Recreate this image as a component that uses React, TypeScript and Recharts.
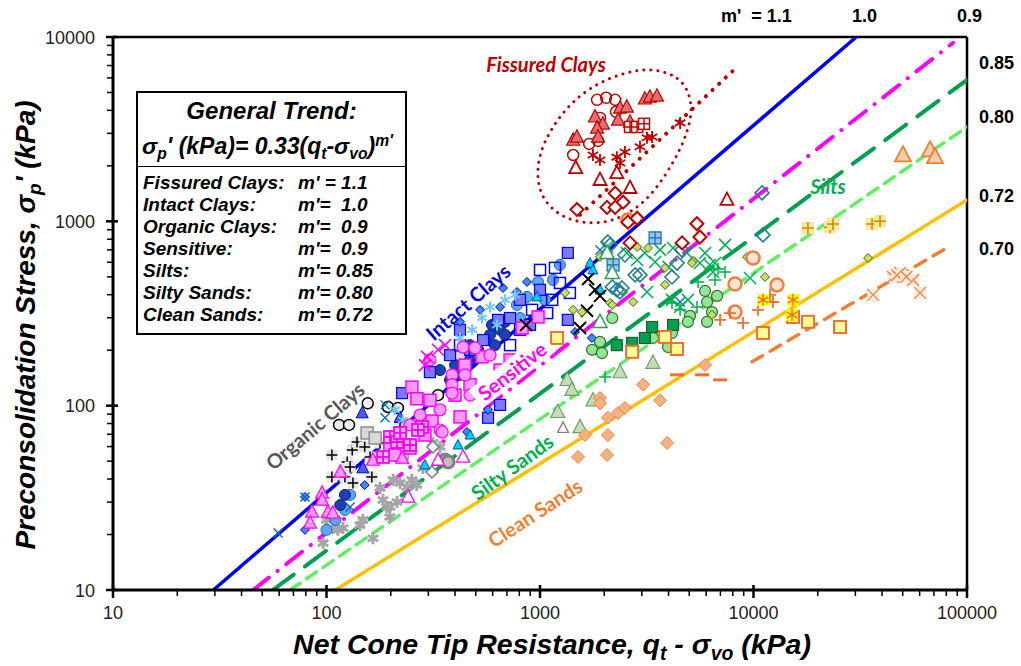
import React from 'react'
import { ComposedChart, Scatter, Line, XAxis, YAxis, ReferenceLine } from 'recharts'

// each point: [net cone tip resistance qt - svo (kPa), preconsolidation stress sp' (kPa)]

// Fissured clays
const fissuredCircles = [[1850, 4560], [2040, 4680], [2250, 4560], [2270, 3930], [1910, 3640], [1700, 2630], [1870, 2730], [1430, 2290]]
const fissuredTriangles = [[3100, 4620], [3270, 4730], [3530, 4790], [2370, 4120], [2550, 4180], [1810, 3690], [1970, 3380], [1850, 3210], [1870, 2870], [2320, 3550], [2640, 3460], [1430, 2760], [1490, 2870]]
const fissuredOpenTriangles = [[1470, 1950], [1910, 1680], [2290, 1830], [2640, 1520], [7510, 1310]]
const fissuredStars = [[1770, 2290], [1910, 2150], [2290, 2230], [2370, 2070], [2500, 2380], [2940, 2540], [3170, 2840], [3350, 2870], [4530, 3420]]
const fissuredBoxes = [[2640, 3250], [2850, 3250], [3070, 3380]]
const fissuredDiamonds = [[1490, 1160], [2060, 1190], [2250, 1420], [2450, 1270], [2250, 1190], [2580, 990], [2850, 1040], [5430, 970], [2640, 764], [4630, 764], [5610, 822]]

// Intact clays
const intactSquares = [[1350, 674], [1350, 292], [636, 292], [226, 117], [571, 86], [650, 101], [541, 227], [379, 188], [305, 152], [806, 375], [1000, 425], [422, 258], [470, 201], [724, 299], [898, 274]]
const intactOpenSquares = [[1240, 463], [1380, 409], [1140, 375], [1080, 318], [918, 331], [806, 258], [724, 213], [496, 188], [422, 213], [1000, 545], [1175, 559]]
const intactNavyCircles = [[650, 258], [615, 213], [583, 242], [470, 177], [513, 201], [686, 285], [422, 147], [379, 138], [116, 28.9], [122, 32.8], [596, 274], [552, 227], [686, 242], [470, 213], [400, 166], [340, 156]]
const intactLightCircles = [[1150, 481], [979, 469], [869, 389], [780, 352], [129, 32.8], [110, 24], [122, 27.2], [100, 21.2], [1240, 580], [1055, 375], [806, 299]]
const intactDiamonds = [[869, 469], [780, 414], [671, 435], [650, 343], [1750, 233], [1460, 251], [151, 37.1], [571, 95], [455, 72], [79.3, 32], [79.3, 21.2], [524, 331], [422, 285]]
const intactCyanTriangles = [[1714, 594], [1770, 545], [968, 389], [1910, 425], [413, 61.2], [470, 69.3], [289, 47.7]]
const intactTriangles = [[147, 91.2], [148, 45.9], [221, 86]]
const intactCrosses = [[59.3, 20.4], [79.3, 32], [129, 28.2], [188, 101], [1910, 700], [4530, 365], [188, 86]]
const intactStars = [[535, 299], [583, 343], [481, 258], [686, 375], [764, 399], [422, 233], [629, 274], [209, 95], [228, 83.6]]
const intactBoxes = [[3460, 813], [2200, 580]]

// Sensitive clays
const sensitiveSquares = [[251, 126], [265, 109], [312, 82.6], [422, 86.9], [535, 184], [445, 166], [979, 303], [824, 264], [221, 71.1], [198, 61.2], [246, 58.9], [289, 69.3], [209, 54], [305, 107], [400, 114], [470, 130], [650, 156], [724, 177]]
const sensitiveCircles = [[436, 208], [496, 206], [387, 147], [387, 130], [387, 117], [445, 147], [340, 73.8], [340, 95], [348, 72], [305, 177], [583, 188], [274, 89], [470, 114], [650, 138], [246, 78.6]]
const sensitiveCrosses = [[296, 184], [359, 213], [333, 201], [289, 166]]
const sensitiveTriangles = [[95.3, 33.6], [95.3, 30.8], [85.5, 26.5], [101.6, 26.5], [83.7, 23.1], [107, 26.2], [116, 43.7], [165, 50.7], [226, 52]]
const sensitiveOpenTriangles = [[241, 32], [333, 50.7], [436, 52.7]]
const sensitivePlus = [[184, 52.7], [198, 67.6], [214, 63.5], [221, 71.1], [246, 61.2], [280, 76.6], [268, 73.8]]

// Organic clays
const organicPlus = [[106, 54], [106, 41], [122, 41], [132, 57.5], [139, 63.5], [163, 41], [178, 62.8], [151, 59.7], [133, 38.1], [221, 76.6], [125, 49.5], [129, 46.5], [160, 52.7]]
const organicCircles = [[114.5, 78.6], [127.5, 78.6], [156, 103], [194, 98.4], [216, 97.2], [333, 114]]
const organicCrosses = [[1680, 487], [1910, 394], [1660, 327], [1540, 264], [860, 274], [1810, 425]]
const organicGraySquares = [[155, 71.1], [169, 66.8], [226, 55.4], [422, 184]]
const organicGrayStars = [[96.4, 18], [107, 21.7], [119.5, 21.7], [143.5, 22.5], [148, 24], [165, 19.1], [192, 28.2], [198, 24.9], [214, 30], [221, 38.1], [251, 39.5], [265, 37.1], [178, 35.8], [283, 45.9], [315, 62.8], [340, 59.7], [100, 24], [113, 21.2], [205, 39.5], [238, 36.2], [184, 30.8], [198, 28.2]]
const organicGrayDiamonds = [[315, 59.7], [312, 43.7]]
const organicGrayRings = [[359, 50.7], [371, 49.5]]

// Silts
const siltCrosses = [[2060, 726], [2550, 674], [3100, 674], [3170, 414], [3650, 700], [3460, 602], [4000, 566], [4200, 717], [4880, 674], [5610, 594], [6250, 580], [6460, 531], [7360, 745], [4150, 375], [4530, 343], [4930, 375], [2850, 617], [5930, 674], [6600, 594], [9630, 493]]
const siltPlus = [[6600, 481], [5500, 469], [5440, 343], [4530, 331], [4150, 361], [6820, 552], [7360, 531], [2016, 143]]
const siltDiamonds = [[10960, 1426], [11080, 844], [4150, 499], [2790, 512], [2370, 414], [4620, 700], [2130, 745], [2080, 773], [2500, 657], [2940, 512], [4385, 594], [2180, 441], [2290, 425], [2420, 435]]
const siltSmallDiamonds = [[1910, 641], [2850, 726], [3850, 559], [5210, 610], [9330, 641], [11320, 499], [2730, 365], [3850, 452], [34400, 633], [6390, 311], [2130, 361], [1430, 331], [1574, 322], [1310, 409], [3205, 717], [2180, 352], [5150, 594]]
const siltCircles = [[2180, 299], [5930, 419], [6750, 394], [6060, 365], [6390, 322], [5040, 307], [6060, 285], [4930, 285], [3980, 208], [3380, 233], [1753, 201], [1951, 193], [4150, 248], [1910, 222]]
const siltSquares = [[2290, 213], [2700, 219], [3100, 233], [3350, 267], [4200, 274]]

// Silty sands
const siltySandTriangles = [[3380, 171], [2370, 152], [1340, 138], [1410, 122], [1770, 107], [1210, 92.5], [1540, 76.6]]
const siltySandOpenTriangles = [[2060, 674], [2180, 525], [1910, 285]]
const siltySandGrayTriangles = [[1282, 75.7]]

// Clean sands
const cleanDiamonds = [[5930, 166], [3040, 130], [3650, 107], [1910, 110], [1910, 103], [2080, 86], [2320, 91.2], [2500, 97.2], [1625, 69.3], [2080, 69.3], [3940, 62.8], [1507, 52.7], [2060, 54]]
const cleanCircles = [[12880, 452], [8190, 457], [9950, 633], [8190, 322], [2580, 1018]]
const cleanPlus = [[6970, 292], [8930, 281], [7760, 318], [10490, 331], [12330, 365], [11950, 399]]
const cleanSquares = [[11080, 248], [17990, 285], [25410, 267], [15310, 303], [1202, 233], [2700, 196], [3850, 236], [4385, 203]]
const cleanStars = [[11080, 375], [15310, 375], [15140, 311]]
const cleanBoxes = [[17990, 921], [22820, 930], [23570, 968], [35900, 968], [39150, 1002]]
const cleanTriangles = [[50100, 2290], [67100, 2440], [70800, 2240]]
const cleanCrosses = [[45000, 499], [48600, 525], [55900, 481], [60300, 409], [36300, 399], [47000, 510], [52000, 500]]
const cleanDashes = [[4385, 147], [5740, 147], [6970, 138]]

// trend lines (end points)
const fissuredTrend = [[1540, 1084], [8000, 6550]]
const intactTrend = [[29.5, 10], [30300, 10000]]
const sensitiveTrend = [[45.3, 10], [85900, 9290]]
const siltTrend = [[56, 10], [100000, 5850]]
const siltySandTrend = [[67.5, 10], [100000, 3250]]
const cleanSandTrend = [[110, 10], [100000, 1306]]
const cleanSandFit = [[9840, 173], [80500, 718]]
const fissuredEllipse = [[3380, 6790], [4530, 6080], [5040, 4850], [5150, 3925], [4930, 3133], [4530, 2440], [3940, 1832], [3275, 1357], [2640, 1111], [2130, 993], [1660, 968], [1282, 1043], [1055, 1259], [968, 1616], [979, 2236], [1114, 3133], [1384, 4390], [1850, 5636], [2550, 6470]]

// axis ticks
const xMajor = [10, 100, 1000, 10000, 100000]
const xTicks = [10, 20, 30, 40, 50, 60, 70, 80, 90, 100, 200, 300, 400, 500, 600, 700, 800, 900, 1000, 2000, 3000, 4000, 5000, 6000, 7000, 8000, 9000, 10000, 20000, 30000, 40000, 50000, 60000, 70000, 80000, 90000, 100000]
const yMajor = [10, 100, 1000, 10000]
const yTicks = [10, 20, 30, 40, 50, 60, 70, 80, 90, 100, 200, 300, 400, 500, 600, 700, 800, 900, 1000, 2000, 3000, 4000, 5000, 6000, 7000, 8000, 9000, 10000]

const legendRows = [
  ['Fissured Clays:', "m' = 1.1"],
  ['Intact Clays:', "m'=  1.0"],
  ['Organic Clays:', "m'=  0.9"],
  ['Sensitive:', "m'=  0.9"],
  ['Silts:', "m'= 0.85"],
  ['Silty Sands:', "m'= 0.80"],
  ['Clean Sands:', "m'= 0.72"],
]

const toPts = (arr: number[][]) => arr.map(([q, s]) => ({ q, s }))

type Mk = { kind: string; size: number; fill?: string; stroke?: string; sw?: number; bg?: string }

const marker = (m: Mk) => (p: any) => {
  const { cx, cy } = p
  if (cx == null || cy == null) return <g />
  const r = m.size / 2
  const fill = m.fill ?? 'none'
  const stroke = m.stroke ?? 'none'
  const sw = m.sw ?? 1.2
  const bg = m.bg ? <rect x={cx - r} y={cy - r} width={m.size} height={m.size} fill={m.bg} /> : null
  const xPath = `M${cx - r},${cy - r}L${cx + r},${cy + r}M${cx + r},${cy - r}L${cx - r},${cy + r}`
  const plusPath = `M${cx - r},${cy}L${cx + r},${cy}M${cx},${cy - r}L${cx},${cy + r}`
  switch (m.kind) {
    case 'circle':
      return <circle cx={cx} cy={cy} r={r} fill={fill} stroke={stroke} strokeWidth={sw} />
    case 'square':
      return <rect x={cx - r} y={cy - r} width={m.size} height={m.size} fill={fill} stroke={stroke} strokeWidth={sw} />
    case 'triangle':
      return <polygon points={`${cx},${cy - r * 1.1} ${cx + r},${cy + r * 0.8} ${cx - r},${cy + r * 0.8}`} fill={fill} stroke={stroke} strokeWidth={sw} />
    case 'diamond':
      return <polygon points={`${cx},${cy - r} ${cx + r},${cy} ${cx},${cy + r} ${cx - r},${cy}`} fill={fill} stroke={stroke} strokeWidth={sw} />
    case 'x':
      return <g>{bg}<path d={xPath} stroke={stroke} strokeWidth={sw} /></g>
    case 'plus':
      return <g>{bg}<path d={plusPath} stroke={stroke} strokeWidth={sw} /></g>
    case 'star':
      return <g>{bg}<path d={`M${cx},${cy - r}L${cx},${cy + r}M${cx - r * 0.87},${cy - r * 0.5}L${cx + r * 0.87},${cy + r * 0.5}M${cx + r * 0.87},${cy - r * 0.5}L${cx - r * 0.87},${cy + r * 0.5}`} stroke={stroke} strokeWidth={sw} /></g>
    case 'boxplus':
      return (
        <g>
          <rect x={cx - r} y={cy - r} width={m.size} height={m.size} fill={fill} stroke={stroke} strokeWidth={sw} />
          <path d={plusPath} stroke={stroke} strokeWidth={sw} />
        </g>
      )
    case 'dash':
      return <path d={`M${cx - r},${cy}L${cx + r},${cy}`} stroke={stroke} strokeWidth={sw} />
    default:
      return <g />
  }
}

const scatterSeries: { data: number[][]; mk: Mk }[] = [
  { data: organicGrayStars, mk: { kind: 'star', size: 12, stroke: '#A6A6A6', sw: 3 } },
  { data: organicGrayDiamonds, mk: { kind: 'diamond', size: 12, fill: '#F2F2F2', stroke: '#7F7F7F', sw: 1.5 } },
  { data: organicGrayRings, mk: { kind: 'circle', size: 12, fill: '#BFBFBF', stroke: '#808080', sw: 3 } },
  { data: organicPlus, mk: { kind: 'plus', size: 11, stroke: '#000', sw: 1.5, bg: '#E7E7E7' } },
  { data: organicCircles, mk: { kind: 'circle', size: 11, fill: '#EDEDED', stroke: '#000', sw: 1.5 } },
  { data: organicGraySquares, mk: { kind: 'square', size: 12, fill: '#D9D9D9', stroke: '#8C8C8C', sw: 1.5 } },
  { data: intactLightCircles, mk: { kind: 'circle', size: 11, fill: '#5CA8F0', stroke: '#2060D0', sw: 1 } },
  { data: intactNavyCircles, mk: { kind: 'circle', size: 11, fill: '#2040B0', stroke: '#0A1F80', sw: 1 } },
  { data: intactSquares, mk: { kind: 'square', size: 11, fill: '#7B7BF5', stroke: '#0000FF', sw: 1.2 } },
  { data: intactOpenSquares, mk: { kind: 'square', size: 11, fill: 'none', stroke: '#0000FF', sw: 1.5 } },
  { data: intactDiamonds, mk: { kind: 'diamond', size: 9, fill: '#3C8CF0', stroke: '#0000CC', sw: 1 } },
  { data: intactCyanTriangles, mk: { kind: 'triangle', size: 10, fill: '#00D0F0', stroke: '#0050C0', sw: 1 } },
  { data: intactTriangles, mk: { kind: 'triangle', size: 12, fill: '#4A5CF0', stroke: '#0000C0', sw: 1 } },
  { data: intactCrosses, mk: { kind: 'x', size: 9, stroke: '#0070C0', sw: 1.4 } },
  { data: intactStars, mk: { kind: 'star', size: 11, stroke: '#70C8FF', sw: 2 } },
  { data: intactBoxes, mk: { kind: 'boxplus', size: 12, fill: '#9DC3E6', stroke: '#0070C0', sw: 1.2 } },
  { data: sensitiveSquares, mk: { kind: 'square', size: 12, fill: '#FF99FF', stroke: '#FF00FF', sw: 1.5 } },
  { data: sensitiveCircles, mk: { kind: 'circle', size: 12, fill: '#FF99FF', stroke: '#FF00FF', sw: 1.2 } },
  { data: sensitiveCrosses, mk: { kind: 'x', size: 12, stroke: '#FF00FF', sw: 1.6 } },
  { data: sensitiveTriangles, mk: { kind: 'triangle', size: 13, fill: '#FF99FF', stroke: '#FF00FF', sw: 1.2 } },
  { data: sensitiveOpenTriangles, mk: { kind: 'triangle', size: 13, fill: '#FFFFFF', stroke: '#FF00FF', sw: 1.3 } },
  { data: sensitivePlus, mk: { kind: 'boxplus', size: 12, fill: '#FFB3FF', stroke: '#FF00FF', sw: 1.8 } },
  { data: organicCrosses, mk: { kind: 'x', size: 12, stroke: '#000', sw: 2 } },
  { data: siltCircles, mk: { kind: 'circle', size: 11, fill: '#92E892', stroke: '#2F6F2F', sw: 1.2 } },
  { data: siltSquares, mk: { kind: 'square', size: 11, fill: '#00A050', stroke: '#1F5F2F', sw: 1.2 } },
  { data: siltCrosses, mk: { kind: 'x', size: 12, stroke: '#00B050', sw: 1.5 } },
  { data: siltPlus, mk: { kind: 'plus', size: 12, stroke: '#00B050', sw: 1.5 } },
  { data: siltDiamonds, mk: { kind: 'diamond', size: 14, fill: 'none', stroke: '#1F8090', sw: 1.6 } },
  { data: siltSmallDiamonds, mk: { kind: 'diamond', size: 9, fill: '#C4E060', stroke: '#3F5F1F', sw: 1 } },
  { data: siltySandTriangles, mk: { kind: 'triangle', size: 14, fill: '#C5DCB5', stroke: '#6F9F6F', sw: 1.2 } },
  { data: siltySandOpenTriangles, mk: { kind: 'triangle', size: 14, fill: '#FFFFFF', stroke: '#2FA050', sw: 1.5 } },
  { data: siltySandGrayTriangles, mk: { kind: 'triangle', size: 11, fill: '#FFFFFF', stroke: '#7F7F7F', sw: 1.3 } },
  { data: cleanDiamonds, mk: { kind: 'diamond', size: 13, fill: '#F4B183', stroke: '#F08040', sw: 1 } },
  { data: cleanCircles, mk: { kind: 'circle', size: 13, fill: '#FCE4D6', stroke: '#F08040', sw: 2.5 } },
  { data: cleanPlus, mk: { kind: 'plus', size: 12, stroke: '#F07030', sw: 1.8 } },
  { data: cleanSquares, mk: { kind: 'square', size: 12, fill: '#FFFF99', stroke: '#F07030', sw: 2 } },
  { data: cleanStars, mk: { kind: 'star', size: 12, stroke: '#F07030', sw: 1.5, bg: '#FFFF00' } },
  { data: cleanBoxes, mk: { kind: 'plus', size: 12, stroke: '#BF9000', sw: 1.5, bg: '#FFE699' } },
  { data: cleanTriangles, mk: { kind: 'triangle', size: 16, fill: '#F8CBAD', stroke: '#F08030', sw: 1.8 } },
  { data: cleanCrosses, mk: { kind: 'x', size: 12, stroke: '#F08040', sw: 1.3, bg: '#FDEBDD' } },
  { data: cleanDashes, mk: { kind: 'dash', size: 14, stroke: '#F07030', sw: 3 } },
  { data: fissuredDiamonds, mk: { kind: 'diamond', size: 13, fill: '#FFFFFF', stroke: '#C00000', sw: 2 } },
  { data: fissuredCircles, mk: { kind: 'circle', size: 11, fill: 'none', stroke: '#C00000', sw: 1.5 } },
  { data: fissuredTriangles, mk: { kind: 'triangle', size: 13, fill: '#E07070', stroke: '#C00000', sw: 1.2 } },
  { data: fissuredOpenTriangles, mk: { kind: 'triangle', size: 13, fill: '#FFFFFF', stroke: '#C00000', sw: 1.8 } },
  { data: fissuredStars, mk: { kind: 'star', size: 12, stroke: '#C00000', sw: 1.8 } },
  { data: fissuredBoxes, mk: { kind: 'boxplus', size: 11, fill: '#FFFFFF', stroke: '#C00000', sw: 1.5 } },
]

const lineSeries = [
  { data: fissuredEllipse, color: '#C00000', width: 3, dash: '0.1 7', type: 'basisClosed' },
  { data: fissuredTrend, color: '#C00000', width: 4, dash: '0.1 9', type: 'linear' },
  { data: intactTrend, color: '#0000FF', width: 3.5, dash: undefined, type: 'linear' },
  { data: sensitiveTrend, color: '#FF00FF', width: 4, dash: '20 11 0.1 11', type: 'linear' },
  { data: siltTrend, color: '#00A050', width: 4, dash: '26 14', type: 'linear' },
  { data: siltySandTrend, color: '#5EF05E', width: 3.5, dash: '12 8', type: 'linear' },
  { data: cleanSandTrend, color: '#FFC000', width: 3.5, dash: undefined, type: 'linear' },
  { data: cleanSandFit, color: '#F08030', width: 3.5, dash: '12 9', type: 'linear' },
]

const XTick = (props: any) => {
  const { x, y, payload } = props
  const major = xMajor.includes(payload.value)
  return (
    <g>
      <line x1={x} x2={x} y1={major ? y - 5 : y} y2={major ? y + 8 : y + 6} stroke="#000" strokeWidth={major ? 2.5 : 1.5} />
      {major && (
        <text x={x} y={y + 29} textAnchor="middle" fontSize={18} fontFamily="Liberation Sans, Arial" fill="#222">
          {payload.value}
        </text>
      )}
    </g>
  )
}

const YTick = (props: any) => {
  const { x, y, payload } = props
  const major = yMajor.includes(payload.value)
  return (
    <g>
      <line x1={major ? x - 7 : x - 6} x2={major ? x + 5 : x} y1={y} y2={y} stroke="#000" strokeWidth={major ? 2.5 : 1.5} />
      {major && (
        <text x={x - 18} y={y + 6.5} textAnchor="end" fontSize={18} fontFamily="Liberation Sans, Arial" fill="#222">
          {payload.value}
        </text>
      )}
    </g>
  )
}

const Txt = ({ x, y, size, children, style }: any) => (
  <div style={{ position: 'absolute', left: x, top: y - size * 0.6, fontSize: size, lineHeight: `${size * 1.2}px`, whiteSpace: 'pre', ...style }}>
    {children}
  </div>
)

const Tag = ({ x, y, angle, color, size, children, bg, italic }: any) => (
  <div
    style={{
      position: 'absolute',
      left: x,
      top: y,
      transform: `translate(-50%,-50%) rotate(${angle}deg)`,
      color,
      fontSize: size,
      fontFamily: 'Lato, sans-serif',
      fontWeight: 700,
      fontStyle: italic ? 'italic' : 'normal',
      whiteSpace: 'nowrap',
      background: bg,
      padding: bg ? '0 6px' : 0,
      lineHeight: 1.15,
    }}
  >
    {children}
  </div>
)

const sub = { fontSize: '0.68em', verticalAlign: '-0.3em' }
const sup = { fontSize: '0.68em', verticalAlign: '0.5em' }
const bold = { fontFamily: 'Liberation Sans, Arial, sans-serif', fontWeight: 700 }
const boldIt = { ...bold, fontStyle: 'italic' }

export default function App() {
  return (
    <div style={{ position: 'absolute', left: 0, top: 0, width: 1021, height: 666, background: '#fff', overflow: 'hidden' }}>
      <ComposedChart width={1021} height={666} margin={{ top: 37, right: 54, left: 53, bottom: 46 }}>
        <XAxis
          dataKey="q"
          type="number"
          scale="log"
          domain={[10, 100000]}
          allowDataOverflow
          ticks={xTicks}
          interval={0}
          height={30}
          tickSize={0}
          tickMargin={0}
          tickLine={false}
          axisLine={{ stroke: '#000', strokeWidth: 3 }}
          tick={<XTick />}
        />
        <YAxis
          dataKey="s"
          type="number"
          scale="log"
          domain={[10, 10000]}
          allowDataOverflow
          ticks={yTicks}
          interval={0}
          width={60}
          tickSize={0}
          tickMargin={0}
          tickLine={false}
          axisLine={{ stroke: '#000', strokeWidth: 3 }}
          tick={<YTick />}
        />
        <ReferenceLine y={10000} stroke="#000" strokeWidth={2.5} />
        <ReferenceLine x={100000} stroke="#000" strokeWidth={2.5} />
        {scatterSeries.map((sr, i) => (
          <Scatter key={`s${i}`} data={toPts(sr.data)} shape={marker(sr.mk)} isAnimationActive={false} />
        ))}
        {lineSeries.map((ln, i) => (
          <Line
            key={`l${i}`}
            data={toPts(ln.data)}
            dataKey="s"
            type={ln.type as any}
            stroke={ln.color}
            strokeWidth={ln.width}
            strokeDasharray={ln.dash}
            strokeLinecap="round"
            dot={false}
            activeDot={false}
            isAnimationActive={false}
          />
        ))}
      </ComposedChart>

      {/* axis titles */}
      <Tag x={27} y={325} angle={-90} color="#000" size={28} italic>
        <span style={boldIt}>
          Preconsolidation Stress, σ<span style={sub}>p</span>' (kPa)
        </span>
      </Tag>
      <Txt x={0} y={644} size={28.5} style={{ ...boldIt, width: 1104, textAlign: 'center' }}>
        Net Cone Tip Resistance, q<span style={sub}>t</span> - σ<span style={sub}>vo</span> (kPa)
      </Txt>

      {/* exponent labels along the frame */}
      <Txt x={721} y={17} size={18} style={bold}>{"m'  = 1.1"}</Txt>
      <Txt x={852} y={17} size={18} style={bold}>1.0</Txt>
      <Txt x={957} y={17} size={18} style={bold}>0.9</Txt>
      <Txt x={979} y={64} size={18} style={bold}>0.85</Txt>
      <Txt x={979} y={118} size={18} style={bold}>0.80</Txt>
      <Txt x={979} y={197} size={18} style={bold}>0.72</Txt>
      <Txt x={979} y={250} size={18} style={bold}>0.70</Txt>

      {/* general trend box */}
      <div style={{ position: 'absolute', left: 136, top: 91, width: 271, height: 244, border: '2px solid #000', background: '#fff', boxSizing: 'border-box' }}>
        <div style={{ position: 'absolute', left: 0, right: 0, top: 73, borderTop: '1.5px solid #000' }} />
        <Txt x={0} y={18} size={24} style={{ ...boldIt, width: 267, textAlign: 'center' }}>General Trend:</Txt>
        <Txt x={4} y={48} size={23} style={boldIt}>
          σ<span style={sub}>p</span>' (kPa)= 0.33(q<span style={sub}>t</span>-σ<span style={sub}>vo</span>)<span style={sup}>m'</span>
        </Txt>
        {legendRows.map(([name, val], i) => (
          <React.Fragment key={name}>
            <Txt x={5} y={90 + i * 22} size={19} style={boldIt}>{name}</Txt>
            <Txt x={160} y={90 + i * 22} size={19} style={boldIt}>{val}</Txt>
          </React.Fragment>
        ))}
      </div>

      {/* soil group annotations */}
      <Tag x={546} y={64} angle={0} color="#C00000" size={20} italic>Fissured Clays</Tag>
      <Tag x={468} y={302} angle={-41} color="#0000FF" size={20}>Intact Clays</Tag>
      <Tag x={512} y={371} angle={-38} color="#FF00FF" size={20} bg="#fff">Sensitive</Tag>
      <Tag x={315} y={426} angle={-40.5} color="#595959" size={20}>Organic Clays</Tag>
      <Tag x={512} y={467} angle={-36} color="#00B050" size={20}>Silty Sands</Tag>
      <Tag x={535} y={513} angle={-33} color="#F08030" size={20}>Clean Sands</Tag>
      <Tag x={828} y={186} angle={0} color="#00B050" size={20} italic>Silts</Tag>
    </div>
  )
}
